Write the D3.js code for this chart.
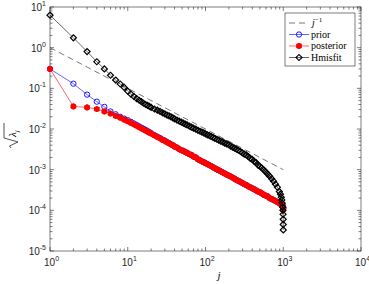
<!DOCTYPE html>
<meta charset="utf-8">
<script src="https://d3js.org/d3.v7.min.js"></script>
<style>
  body { margin: 0; background: #fff; }
</style>
<div id="my_dataviz"></div>
<script>

var jVals = [1,2,3,4,5,6,7,8,9,10,11,12,13,14,15,16,17,18,19,20,
  22,24,26,28,30,32,34,36,38,40,43,46,49,52,55,58,62,66,70,75,80,85,90,95,100,
  106,112,118,125,132,140,148,157,166,176,187,198,210,223,236,250,265,281,298,316,335,355,376,398,
  422,447,473,501,531,562,596,631,668,708,750,794,841,891,920,944,960,972,982,990,995,998,999,1000];

var posterior = [0.30,0.036,0.034,0.031,0.027,0.024,0.021,0.019,0.017,0.0155,0.0141,0.0130,0.0120,0.0111,0.0103,0.0097,0.0091,0.0086,0.0081,0.0077,
  0.0070,0.0064,0.0059,0.0054,0.0051,0.0047,0.0045,0.0042,0.0040,0.0037,0.0035,0.0032,0.0030,0.0029,0.0027,0.0026,0.0024,0.0023,0.0021,0.0020,0.0018,0.0017,0.0016,0.00153,0.00145,
  0.00137,0.0013,0.00123,0.00115,0.00109,0.00102,0.00097,0.00091,0.00086,0.00081,0.00076,0.00072,0.00068,0.00064,0.00060,0.00056,0.00053,0.00050,0.00047,0.00044,0.00042,0.00039,0.00037,0.00035,
  0.00033,0.00031,0.00029,0.00028,0.00026,0.00024,0.00023,0.00022,0.00020,0.00019,0.00018,0.00017,0.00016,0.00015,0.000145,0.00014,0.000135,0.00013,0.000125,0.00012,0.000115,0.00011,0.000107,0.000105];

var prior = [0.30,0.13,0.070,0.047,0.035,0.027,0.023,0.020,0.018,0.0165,0.0150,0.0137,0.0126,0.0116,0.0108,0.0101,0.0095,0.0089,0.0084,0.0079,
  0.0071,0.0065,0.0060,0.0055,0.0052,0.0048,0.0045,0.0042,0.0040,0.0037,0.0035,0.0032,0.0030,0.0029,0.0027,0.0026,0.0024,0.0023,0.0021,0.0020,0.0018,0.0017,0.0016,0.00153,0.00145,
  0.00137,0.0013,0.00123,0.00115,0.00109,0.00102,0.00097,0.00091,0.00086,0.00081,0.00076,0.00072,0.00068,0.00064,0.00060,0.00056,0.00053,0.00050,0.00047,0.00044,0.00042,0.00039,0.00037,0.00035,
  0.00033,0.00031,0.00029,0.00028,0.00026,0.00024,0.00023,0.00022,0.00020,0.00019,0.00018,0.00017,0.00016,0.00015,0.000145,0.00014,0.000135,0.00013,0.000128,0.000125,0.00012,0.000118,0.000115,0.000112];

var hmisfit = [6.3,1.75,0.80,0.45,0.30,0.21,0.16,0.128,0.105,0.085,0.072,0.063,0.056,0.051,0.047,0.043,0.040,0.038,0.036,0.034,
  0.031,0.029,0.027,0.025,0.0235,0.022,0.021,0.0198,0.0188,0.0178,0.0166,0.0156,0.0147,0.0139,0.0132,0.0126,0.0118,0.0111,0.0105,0.0099,0.0093,0.0088,0.0084,0.0080,0.0076,
  0.0072,0.0069,0.0066,0.0062,0.0059,0.0056,0.0053,0.0050,0.0048,0.0045,0.0043,0.0041,0.0038,0.0036,0.0034,0.0032,0.0030,0.0028,0.0026,0.0024,0.0023,0.0021,0.0019,0.0018,
  0.0016,0.0015,0.0013,0.0012,0.0011,0.00098,0.00088,0.00078,0.00069,0.00060,0.00052,0.00044,0.00037,0.00029,0.00025,0.00021,0.00018,0.00015,0.00012,0.0001,0.00008,0.00006,0.000045,0.000033];

// reference line j^-1
var refJ = [1, 1000];
var refVal = [1, 0.001];

var xMajor = [1,10,100,1000,10000], xExp = ["0","1","2","3","4"];
var yMajor = [10,1,0.1,0.01,0.001,0.0001,0.00001], yExp = ["1","0","-1","-2","-3","-4","-5"];

var W = 369, H = 284;
var pLeft = 50, pRight = 361, pTop = 7, pBottom = 251;

var sans = "'Liberation Sans', Arial, sans-serif";
var serif = "'Liberation Serif', 'DejaVu Serif', serif";

var svg = d3.select("#my_dataviz").append("svg")
    .attr("width", W).attr("height", H);

var x = d3.scaleLog().domain([1, 10000]).range([pLeft, pRight]);
var y = d3.scaleLog().domain([1e-5, 10]).range([pBottom, pTop]);

var axisCol = "#262626";

// box
svg.append("rect")
    .attr("x", pLeft).attr("y", pTop)
    .attr("width", pRight - pLeft).attr("height", pBottom - pTop)
    .attr("fill", "none").attr("stroke", axisCol).attr("stroke-width", 0.6);

// ticks (major + minor, inward, all four sides)
var ticks = svg.append("g").attr("stroke", axisCol).attr("stroke-width", 0.6);
x.ticks().forEach(function(t) {
  var major = xMajor.indexOf(t) >= 0, len = major ? 4 : 2.5;
  ticks.append("line").attr("x1", x(t)).attr("x2", x(t)).attr("y1", pBottom).attr("y2", pBottom - len);
  ticks.append("line").attr("x1", x(t)).attr("x2", x(t)).attr("y1", pTop).attr("y2", pTop + len);
});
y.ticks().forEach(function(t) {
  var major = yMajor.some(function(m) { return Math.abs(m - t) / m < 1e-6; }), len = major ? 4 : 2.5;
  ticks.append("line").attr("y1", y(t)).attr("y2", y(t)).attr("x1", pLeft).attr("x2", pLeft + len);
  ticks.append("line").attr("y1", y(t)).attr("y2", y(t)).attr("x1", pRight).attr("x2", pRight - len);
});

// tick labels
xMajor.forEach(function(t, i) {
  var tx = svg.append("text").attr("x", x(t) - 6).attr("y", 266)
      .style("font-family", sans).attr("font-size", 10).attr("fill", "#262626");
  tx.append("tspan").text("10");
  tx.append("tspan").attr("dy", -5).attr("font-size", 7).text(xExp[i]);
});
yMajor.forEach(function(t, i) {
  var tx = svg.append("text").attr("x", pLeft - 4).attr("y", y(t) + 4)
      .style("font-family", sans).attr("font-size", 10).attr("fill", "#262626").attr("text-anchor", "end");
  tx.append("tspan").text("10");
  tx.append("tspan").attr("dy", -5).attr("font-size", 7).text(yExp[i]);
});

// axis labels
svg.append("text").attr("x", 219).attr("y", 279)
    .style("font-family", serif).attr("font-style", "italic")
    .attr("font-size", 11).attr("text-anchor", "middle").text("j");

var yl = svg.append("g").attr("transform", "translate(14,135) rotate(-90)");
yl.append("path").attr("d", "M-13,-3 L-11,-4.5 L-7,4 L-3,-10 L12,-10")
    .attr("fill", "none").attr("stroke", "#262626").attr("stroke-width", 0.8);
var lt = yl.append("text").attr("x", -2).attr("y", 2)
    .style("font-family", serif).attr("font-style", "italic").attr("font-size", 11);
lt.append("tspan").text("λ");
lt.append("tspan").attr("dy", 2.5).attr("font-size", 7).text("j");

// data plotting
var plot = svg.append("g");

var line = d3.line()
    .x(function(d) { return x(d[0]); })
    .y(function(d) { return y(d[1]); });

plot.append("path")
    .datum(d3.zip(refJ, refVal))
    .attr("d", line).attr("fill", "none")
    .attr("stroke", "#555").attr("stroke-width", 0.8).attr("stroke-dasharray", "6,4");

var asterisk = d3.symbolAsterisk || d3.symbolCross;

// each series: list of marker layers (red one = filled dot + asterisk)
var series = [
  {vals: prior, col: "#0000ff", marks: [{sym: d3.symbol(d3.symbolCircle).size(22), fill: "none", sw: 0.9, rot: 0}]},
  {vals: posterior, col: "#ff0000", marks: [
      {sym: d3.symbol(d3.symbolCircle).size(26), fill: "#ff0000", sw: 0, rot: 0},
      {sym: d3.symbol(asterisk).size(26), fill: "none", sw: 1.4, rot: 0}]},
  {vals: hmisfit, col: "#000000", marks: [{sym: d3.symbol(d3.symbolSquare).size(18), fill: "none", sw: 1.2, rot: 45}]}
];

function drawMark(g, m, col, p) {
  g.append("path")
      .attr("d", m.sym)
      .attr("transform", "translate(" + p[0] + "," + p[1] + ") rotate(" + m.rot + ")")
      .attr("fill", m.fill).attr("stroke", m.sw ? col : "none").attr("stroke-width", m.sw);
}

series.forEach(function(s) {
  var pts = d3.zip(jVals, s.vals);
  plot.append("path").datum(pts).attr("d", line)
      .attr("fill", "none").attr("stroke", s.col).attr("stroke-width", 0.6);
  var g = plot.append("g");
  pts.forEach(function(d) {
    s.marks.forEach(function(m) { drawMark(g, m, s.col, [x(d[0]), y(d[1])]); });
  });
});

// legend
var lg = svg.append("g");
lg.append("rect").attr("x", 285).attr("y", 13).attr("width", 70).attr("height", 53)
    .attr("fill", "#fff").attr("stroke", axisCol).attr("stroke-width", 0.6);
var lgY = [23, 34.5, 46, 57.5];
var lgItems = [
  {label: "j", col: "#555", dash: "6,4", s: null},
  {label: "prior", col: series[0].col, s: series[0]},
  {label: "posterior", col: series[1].col, s: series[1]},
  {label: "Hmisfit", col: series[2].col, s: series[2]}
];
lgItems.forEach(function(it, i) {
  var yy = lgY[i];
  lg.append("line").attr("x1", 289).attr("x2", 309).attr("y1", yy).attr("y2", yy)
      .attr("stroke", it.col).attr("stroke-width", it.dash ? 0.8 : 0.6)
      .attr("stroke-dasharray", it.dash || null);
  if (it.s) {
    it.s.marks.forEach(function(m) { drawMark(lg, m, it.col, [299, yy]); });
  }
  var t = lg.append("text").attr("x", 311).attr("y", yy + 3)
      .style("font-family", serif).attr("font-size", 10);
  if (i === 0) {
    t.append("tspan").attr("font-style", "italic").attr("x", 312).text("j");
    t.append("tspan").attr("dy", -4).attr("font-size", 7).text("−1");
  } else {
    t.text(it.label);
  }
});

</script>
